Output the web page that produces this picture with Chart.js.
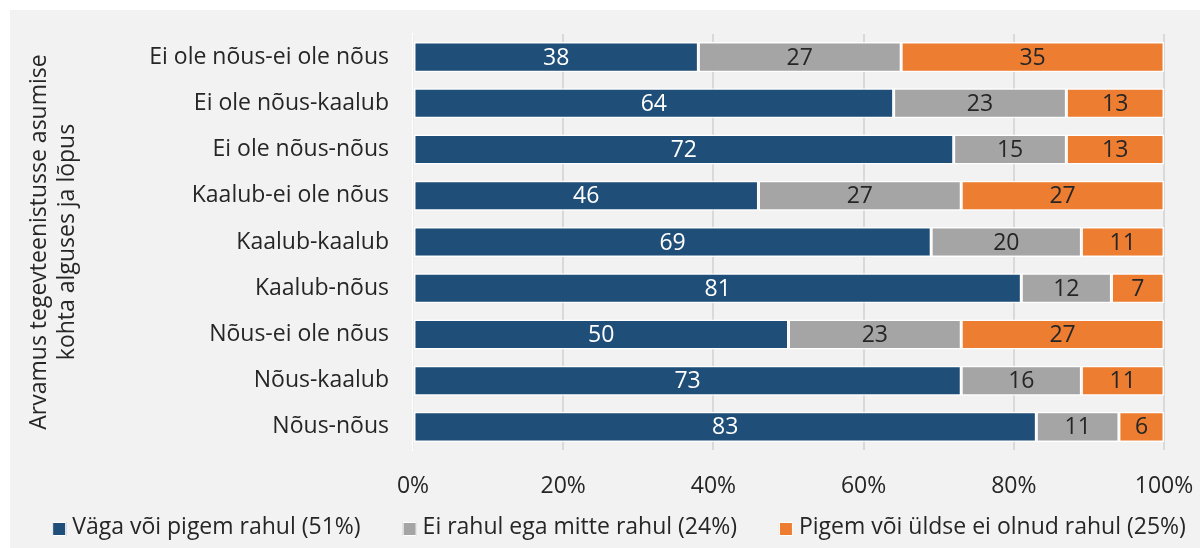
<!DOCTYPE html>
<html>
<head>
<meta charset="utf-8">
<script src="https://cdn.jsdelivr.net/npm/chart.js@4"></script>
<style>
  body { margin: 0; background: #fff; }
  #wrap { position: absolute; left: 10px; top: 10px; width: 1190px; height: 538px; background: #f2f2f2; }
</style>
</head>
<body>
<div id="wrap"><canvas id="chart"></canvas></div>
<script>
const categories = ['Ei ole nõus-ei ole nõus', 'Ei ole nõus-kaalub', 'Ei ole nõus-nõus', 'Kaalub-ei ole nõus',
  'Kaalub-kaalub', 'Kaalub-nõus', 'Nõus-ei ole nõus', 'Nõus-kaalub', 'Nõus-nõus'];
const rahul = [38, 64, 72, 46, 69, 81, 50, 73, 83];
const neutraalne = [27, 23, 15, 27, 20, 12, 23, 16, 11];
const polerahul = [35, 13, 13, 27, 11, 7, 27, 11, 6];
const seriesNames = ['Väga või pigem rahul (51%)', 'Ei rahul ega mitte rahul (24%)', 'Pigem või üldse ei olnud rahul (25%)'];
const colors = ['#1f4e79', '#a5a5a5', '#ed7d31'];
const yTitle = ['Arvamus tegevteenistusse asumise', 'kohta alguses ja lõpus'];

const FONT = "'Open Sans', sans-serif";
const SIZE = 23;
const TXT = '#262626';

// numbers inside the bars
const barLabels = {
  id: 'barLabels',
  afterDatasetsDraw(c) {
    const ctx = c.ctx;
    ctx.save();
    ctx.font = SIZE + 'px ' + FONT;
    ctx.textAlign = 'center';
    ctx.textBaseline = 'middle';
    c.data.datasets.forEach((ds, i) => {
      c.getDatasetMeta(i).data.forEach((bar, j) => {
        const p = bar.getCenterPoint();
        ctx.fillStyle = i === 0 ? '#ffffff' : TXT;
        ctx.fillText(ds.data[j], p.x, p.y + 1);
      });
    });
    ctx.restore();
  }
};

// legend along the bottom, spaced like the original
const bottomLegend = {
  id: 'bottomLegend',
  afterDraw(c) {
    const ctx = c.ctx;
    const box = 14, gap = 6, spacing = 42, y = 517;
    ctx.save();
    ctx.font = SIZE + 'px ' + FONT;
    ctx.textBaseline = 'middle';
    const widths = c.data.datasets.map(ds => ctx.measureText(ds.label).width);
    const total = widths.reduce((a, w) => a + box + gap + w, 0) + spacing * (widths.length - 1);
    let x = 609 - total / 2;
    c.data.datasets.forEach((ds, i) => {
      ctx.fillStyle = ds.backgroundColor;
      ctx.fillRect(x, y - box / 2 + 2, box, box);
      ctx.strokeStyle = '#ffffff';
      ctx.lineWidth = 1;
      ctx.strokeRect(x + 0.5, y - box / 2 + 2.5, box - 1, box - 1);
      ctx.fillStyle = TXT;
      ctx.fillText(ds.label, x + box + gap, y);
      x += box + gap + widths[i] + spacing;
    });
    ctx.restore();
  }
};

new Chart(document.querySelector('#chart').getContext('2d'), {
  type: 'bar',
  data: {
    labels: categories,
    datasets: [
      { label: seriesNames[0], data: rahul, backgroundColor: colors[0] },
      { label: seriesNames[1], data: neutraalne, backgroundColor: colors[1] },
      { label: seriesNames[2], data: polerahul, backgroundColor: colors[2] }
    ]
  },
  options: {
    indexAxis: 'y',
    responsive: true,
    maintainAspectRatio: false,
    animation: false,
    datasets: {
      bar: {
        borderColor: '#ffffff',
        borderWidth: 1.5,
        borderSkipped: false,
        barPercentage: 1,
        categoryPercentage: 0.65
      }
    },
    layout: { padding: { left: 16, right: 36, top: 24, bottom: 42 } },
    plugins: {
      legend: { display: false },
      tooltip: { enabled: false }
    },
    scales: {
      x: {
        stacked: true,
        min: 0,
        max: 100,
        ticks: {
          stepSize: 20,
          callback: v => v + '%',
          font: { family: FONT, size: SIZE },
          color: TXT,
          padding: 23
        },
        grid: { color: '#d9d9d9', lineWidth: 2, drawTicks: false },
        border: { display: false },
        afterFit: s => { s.height = 56; s.paddingRight = 36; s.paddingLeft = 0; }
      },
      y: {
        stacked: true,
        ticks: { font: { family: FONT, size: SIZE }, color: TXT, padding: 24 },
        grid: { display: false, drawTicks: false },
        border: { color: '#ffffff', width: 1.5 },
        title: {
          display: true,
          text: yTitle,
          font: { family: FONT, size: SIZE },
          color: TXT,
          padding: { top: 0, bottom: 0 }
        },
        afterFit: s => { s.width = 387; s.paddingTop = 0; s.paddingBottom = 0; }
      }
    }
  },
  plugins: [barLabels, bottomLegend]
});
</script>
</body>
</html>
